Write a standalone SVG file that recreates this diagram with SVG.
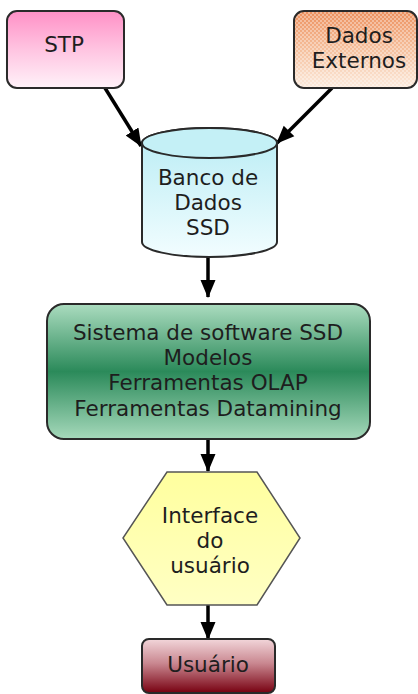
<svg xmlns="http://www.w3.org/2000/svg" width="418" height="694" viewBox="0 0 418 694">
<defs>
<style>
.t{font-family:"DejaVu Sans","Verdana",sans-serif;font-size:21.5px;fill:#1e1e1e;text-anchor:middle}
.box{stroke:#2a2a2a;stroke-width:2}
.con{stroke:#000;stroke-width:3.5;fill:none;marker-end:url(#ah)}
</style>
<marker id="ah" viewBox="0 0 18 18" refX="17" refY="9" markerWidth="18" markerHeight="18" orient="auto" markerUnits="userSpaceOnUse">
<path d="M0,1.5 L18,9 L0,16.5 Z" fill="#000"/>
</marker>
<linearGradient id="gStp" x1="0" y1="0" x2="0" y2="1">
<stop offset="0" stop-color="#ff90c6"/>
<stop offset="0.5" stop-color="#ffc4e1"/>
<stop offset="1" stop-color="#fff2f9"/>
</linearGradient>
<linearGradient id="gExt" x1="0" y1="0" x2="0" y2="1">
<stop offset="0" stop-color="#ec8f5c"/>
<stop offset="0.5" stop-color="#f5bf9c"/>
<stop offset="1" stop-color="#fcebdd"/>
</linearGradient>
<pattern id="chk" width="4" height="4" patternUnits="userSpaceOnUse">
<rect x="0" y="0" width="2" height="2" fill="#ffffff" opacity="0.35"/>
<rect x="2" y="2" width="2" height="2" fill="#ffffff" opacity="0.35"/>
</pattern>
<linearGradient id="gCyl" x1="0" y1="0" x2="0" y2="1">
<stop offset="0" stop-color="#b8ecf4"/>
<stop offset="1" stop-color="#f2fdff"/>
</linearGradient>
<linearGradient id="gGrn" x1="0" y1="0" x2="0" y2="1">
<stop offset="0" stop-color="#abdcbf"/>
<stop offset="0.5" stop-color="#2b8a5a"/>
<stop offset="1" stop-color="#a6d9bb"/>
</linearGradient>
<linearGradient id="gHex" x1="0" y1="0" x2="0" y2="1">
<stop offset="0" stop-color="#ffff9e"/>
<stop offset="1" stop-color="#ffffc4"/>
</linearGradient>
<linearGradient id="gUsr" x1="0" y1="0" x2="0" y2="1">
<stop offset="0" stop-color="#f2d6da"/>
<stop offset="0.45" stop-color="#c98790"/>
<stop offset="1" stop-color="#770010"/>
</linearGradient>
</defs>
<rect width="418" height="694" fill="#ffffff"/>

<g id="connectors">
<line class="con" x1="105" y1="88" x2="141" y2="146"/>
<line class="con" x1="332" y1="88" x2="277" y2="143"/>
<line class="con" x1="208" y1="257" x2="208" y2="297"/>
<line class="con" x1="208" y1="439" x2="208" y2="471"/>
<line class="con" x1="208" y1="605" x2="208" y2="639"/>
</g>

<g id="stp">
<rect class="box" x="7" y="11" width="117" height="77" rx="10" fill="url(#gStp)"/>
<text class="t" x="64" y="52">STP</text>
</g>

<g id="dados-externos">
<rect class="box" x="294" y="11" width="123" height="77" rx="10" fill="url(#gExt)"/>
<rect x="295" y="12" width="121" height="75" rx="9" fill="url(#chk)"/>
<text class="t" x="359" y="43">Dados</text>
<text class="t" x="359" y="68">Externos</text>
</g>

<g id="banco-de-dados">
<path class="box" d="M142,143 L142,242 A67.5,15 0 0 0 277,242 L277,143 A67.5,15 0 0 0 142,143 Z" fill="url(#gCyl)"/>
<ellipse class="box" cx="209.5" cy="143" rx="67.5" ry="15" fill="#c4f0f6" stroke-width="1.5"/>
<text class="t" x="208" y="185">Banco de</text>
<text class="t" x="208" y="210">Dados</text>
<text class="t" x="208" y="235">SSD</text>
</g>

<g id="sistema-ssd">
<rect class="box" x="47" y="304" width="323" height="135" rx="17" fill="url(#gGrn)"/>
<text class="t" x="208" y="340">Sistema de software SSD</text>
<text class="t" x="208" y="365">Modelos</text>
<text class="t" x="208" y="390">Ferramentas OLAP</text>
<text class="t" x="208" y="416">Ferramentas Datamining</text>
</g>

<g id="interface">
<polygon points="167,472 257,472 300,538 257,605 167,605 123,538" fill="url(#gHex)" stroke="#555" stroke-width="1.5"/>
<text class="t" x="210" y="523">Interface</text>
<text class="t" x="210" y="548">do</text>
<text class="t" x="210" y="573">usuário</text>
</g>

<g id="usuario">
<rect class="box" x="142" y="639" width="133" height="54" rx="7" fill="url(#gUsr)"/>
<text class="t" x="208" y="672">Usuário</text>
</g>
</svg>
